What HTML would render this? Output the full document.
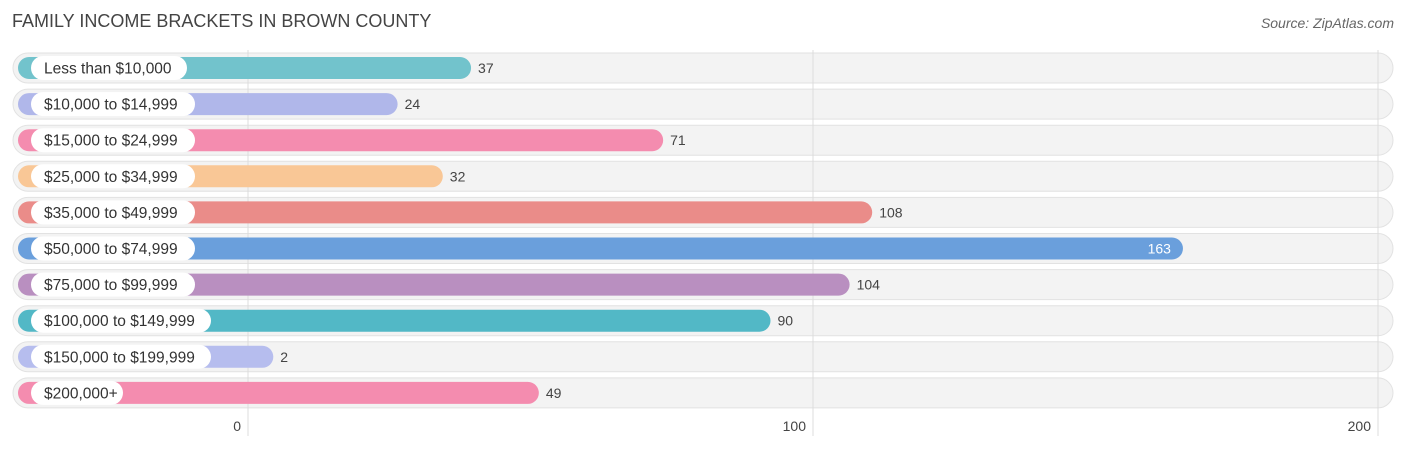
<!DOCTYPE html>
<html><head><meta charset="utf-8"><style>
body{margin:0;width:1406px;height:450px;background:#fff;font-family:"Liberation Sans",sans-serif;position:relative;overflow:hidden}
.t{position:absolute}
</style></head><body>
<div class="t" style="left:12px;top:11px;font-size:18px;color:#444">FAMILY INCOME BRACKETS IN BROWN COUNTY</div>
<div class="t" style="right:12px;top:15px;font-size:14px;color:#666;font-style:italic">Source: ZipAtlas.com</div>
<svg id="chart" width="1406" height="450" style="position:absolute;left:0;top:0" font-family="Liberation Sans, sans-serif"></svg>
<script>
const categories=["Less than $10,000","$10,000 to $14,999","$15,000 to $24,999","$25,000 to $34,999","$35,000 to $49,999","$50,000 to $74,999","$75,000 to $99,999","$100,000 to $149,999","$150,000 to $199,999","$200,000+"];
const values=[37,24,71,32,108,163,104,90,2,49];
const colors=["#72c3cc","#b0b7ea","#f48caf","#f9c796","#ea8c89","#6a9fdc","#b98fc0","#52b8c6","#b6bdee","#f48caf"];
const ticks=[0,100,200];
const svg=document.getElementById('chart');
const NS='http://www.w3.org/2000/svg';
const scale=5.65;
const gx=v=>248+v*scale;
const bx=v=>262+v*scale;
const rowY=i=>68+i*36.1;
function mk(t,a){const e=document.createElementNS(NS,t);for(const k in a)e.setAttribute(k,a[k]);svg.appendChild(e);return e;}
categories.forEach((c,i)=>{
  const y=rowY(i);
  const tr=mk('rect',{x:13,y:y-15,width:1380,height:30,rx:15,fill:'#f3f3f3',stroke:'#e2e2e2'});
  
  
});
ticks.forEach(t=>{
  const l=mk('line',{x1:gx(t),x2:gx(t),y1:50,y2:436,stroke:'#dcdcdc'});
  
  
  const tx=mk('text',{x:gx(t)-7,y:431,'font-size':14,fill:'#444','text-anchor':'end'});
  tx.textContent=t;
  
  
});
categories.forEach((c,i)=>{
  const y=rowY(i);const v=values[i];
  const b=mk('rect',{x:18,y:y-11,width:bx(v)-18,height:22,rx:11,fill:colors[i]});
  
  
  const lw=c.length*8.0+20;
  const p=mk('rect',{x:31,y:y-12,width:lw,height:24,rx:12,fill:'#fff'});
  
  
  const lt=mk('text',{x:44,y:y+5.5,'font-size':15.5,fill:'#333'});
  lt.textContent=c;
  
  
  const inside=v>150;
  const vt=mk('text',{x:inside?bx(v)-12:bx(v)+7,y:y+5,'font-size':14,fill:inside?'#fff':'#444','text-anchor':inside?'end':'start'});
  vt.textContent=v;
  
  
});
</script>
</body></html>
